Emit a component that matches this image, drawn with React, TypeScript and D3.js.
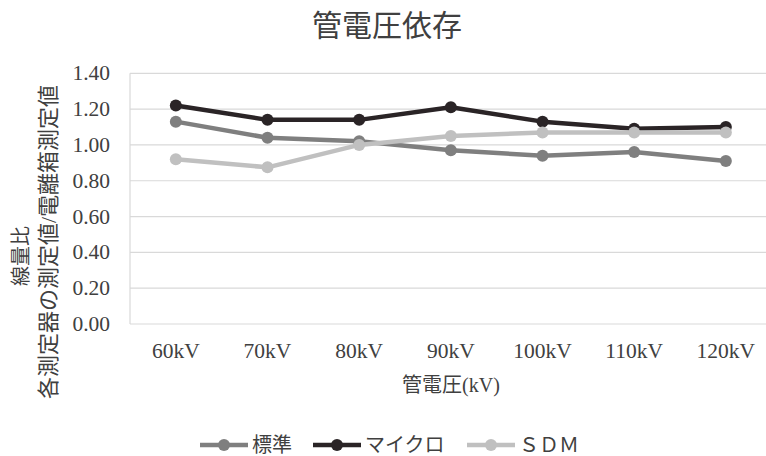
import React from "react";
import * as d3 from "d3";

const categories = ["60kV", "70kV", "80kV", "90kV", "100kV", "110kV", "120kV"];
const standardValues = [1.13, 1.04, 1.02, 0.97, 0.94, 0.96, 0.91];
const microValues = [1.22, 1.14, 1.14, 1.21, 1.13, 1.09, 1.1];
const sdmValues = [0.92, 0.875, 1.0, 1.05, 1.07, 1.07, 1.07];
const yTicks = [0, 0.2, 0.4, 0.6, 0.8, 1.0, 1.2, 1.4];
const seriesNames = ["標準", "マイクロ", "ＳＤＭ"];

const W = 766;
const H = 456;
const plotLeft = 130;
const plotTop = 73.3;
const plotBottom = 324;
const step = 91.67;

const FONT = "'Liberation Serif', 'Noto Sans CJK JP', serif";
const TEXT = "#404040";

const series = [
  { name: seriesNames[0], values: standardValues, color: "#7f7f7f" },
  { name: seriesNames[1], values: microValues, color: "#2a2426" },
  { name: seriesNames[2], values: sdmValues, color: "#c0c0c0" },
];

export default function App() {
  const x = d3
    .scalePoint<string>()
    .domain(categories)
    .range([plotLeft, plotLeft + step * categories.length])
    .padding(0.5);
  const y = d3.scaleLinear().domain([0, 1.4]).range([plotBottom, plotTop]);

  const line = d3
    .line<number>()
    .x((_, i) => x(categories[i]) as number)
    .y((d) => y(d));

  const legendItems = [
    { x0: 200, x1: 248, tx: 252 },
    { x0: 313, x1: 361, tx: 365 },
    { x0: 467, x1: 515, tx: 519 },
  ];
  const legendY = 445;

  return (
    <svg
      width={W}
      height={H}
      style={{ position: "absolute", left: 0, top: 0, background: "#fff" }}
      fontFamily={FONT}
    >
      <rect width={W} height={H} fill="#fff" />
      <text
        x={387}
        y={25}
        textAnchor="middle"
        dominantBaseline="central"
        fontSize={30}
        fill={TEXT}
      >
        管電圧依存
      </text>

      {/* gridlines and tick labels */}
      {yTicks.map((t) => (
        <g key={t}>
          <line
            x1={plotLeft}
            x2={W}
            y1={y(t)}
            y2={y(t)}
            stroke="#d9d9d9"
            strokeWidth={1.2}
          />
          <text
            x={110}
            y={y(t)}
            textAnchor="end"
            dominantBaseline="central"
            fontSize={21.5}
            fill={TEXT}
          >
            {d3.format(".2f")(t)}
          </text>
        </g>
      ))}
      <line
        x1={plotLeft}
        x2={plotLeft}
        y1={plotTop}
        y2={plotBottom}
        stroke="#d9d9d9"
        strokeWidth={1.2}
      />

      {categories.map((c) => (
        <text
          key={c}
          x={x(c)}
          y={358}
          textAnchor="middle"
          fontSize={21.5}
          fill={TEXT}
        >
          {c}
        </text>
      ))}

      <text
        x={451}
        y={385}
        textAnchor="middle"
        dominantBaseline="central"
        fontSize={20}
        fill={TEXT}
      >
        管電圧(kV)
      </text>

      <text
        transform={`translate(21,256) rotate(-90)`}
        textAnchor="middle"
        dominantBaseline="central"
        fontSize={20}
        fill={TEXT}
      >
        線量比
      </text>
      <text
        transform={`translate(48,242) rotate(-90)`}
        textAnchor="middle"
        dominantBaseline="central"
        fontSize={22}
        fill={TEXT}
      >
        各測定器の測定値/電離箱測定値
      </text>

      {/* series */}
      {series.map((s) => (
        <g key={s.name}>
          <path
            d={line(s.values) as string}
            fill="none"
            stroke={s.color}
            strokeWidth={4.5}
            strokeLinejoin="round"
          />
          {s.values.map((v, i) => (
            <circle
              key={i}
              cx={x(categories[i])}
              cy={y(v)}
              r={6}
              fill={s.color}
            />
          ))}
        </g>
      ))}

      {/* legend */}
      {series.map((s, i) => {
        const li = legendItems[i];
        return (
          <g key={s.name}>
            <line
              x1={li.x0}
              x2={li.x1}
              y1={legendY}
              y2={legendY}
              stroke={s.color}
              strokeWidth={4.5}
            />
            <circle cx={(li.x0 + li.x1) / 2} cy={legendY} r={6} fill={s.color} />
            <text
              x={li.tx}
              y={legendY}
              dominantBaseline="central"
              fontSize={20}
              fill={TEXT}
            >
              {s.name}
            </text>
          </g>
        );
      })}
    </svg>
  );
}
